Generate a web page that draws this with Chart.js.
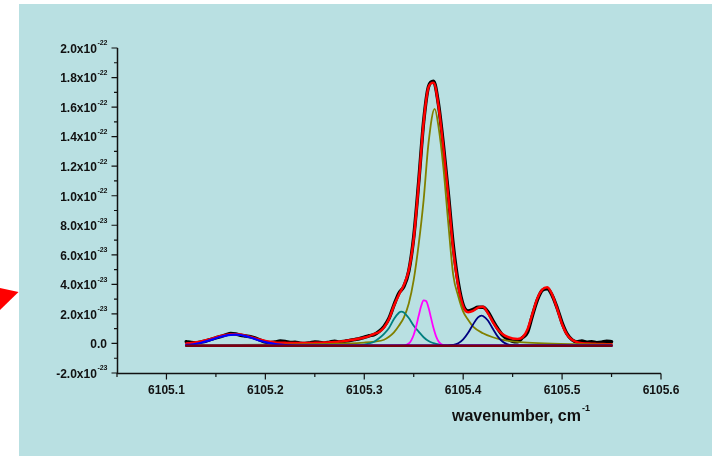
<!DOCTYPE html>
<html>
<head>
<meta charset="utf-8">
<title>wavenumber spectrum</title>
<script src="https://cdn.jsdelivr.net/npm/chart.js@4.4.1/dist/chart.umd.min.js"></script>
<style>
    html, body { margin: 0; padding: 0; background: #ffffff; }
    canvas { display: block; }
</style>
</head>
<body>
<canvas id="line_chart" width="712" height="456"></canvas>
<script>
// intensities are in units of 1e-23
const wavenumber = [
    6105.120, 6105.125, 6105.130, 6105.135, 6105.140, 6105.145, 6105.150, 6105.155, 6105.160, 6105.165,
    6105.170, 6105.175, 6105.180, 6105.185, 6105.190, 6105.195, 6105.200, 6105.205, 6105.210, 6105.215,
    6105.220, 6105.225, 6105.230, 6105.235, 6105.240, 6105.245, 6105.250, 6105.255, 6105.260, 6105.265,
    6105.270, 6105.275, 6105.280, 6105.285, 6105.290, 6105.295, 6105.300, 6105.305, 6105.310, 6105.315,
    6105.320, 6105.325, 6105.330, 6105.335, 6105.340, 6105.345, 6105.350, 6105.355, 6105.360, 6105.365,
    6105.370, 6105.375, 6105.380, 6105.385, 6105.390, 6105.395, 6105.400, 6105.405, 6105.410, 6105.415,
    6105.420, 6105.425, 6105.430, 6105.435, 6105.440, 6105.445, 6105.450, 6105.455, 6105.460, 6105.465,
    6105.470, 6105.475, 6105.480, 6105.485, 6105.490, 6105.495, 6105.500, 6105.505, 6105.510, 6105.515,
    6105.520, 6105.525, 6105.530, 6105.535, 6105.540, 6105.545, 6105.550
];

const measured = [
    0.12, 0.06, 0.04, 0.10, 0.17, 0.28, 0.38, 0.47, 0.58, 0.68,
    0.64, 0.55, 0.50, 0.45, 0.36, 0.22, 0.10, 0.05, 0.10, 0.16,
    0.13, 0.06, 0.08, 0.02, 0.00, 0.04, 0.10, 0.07, 0.03, 0.09,
    0.15, 0.10, 0.14, 0.20, 0.26, 0.32, 0.42, 0.52, 0.60, 0.82,
    1.15, 1.70, 2.60, 3.40, 3.85, 4.90, 7.20, 10.9, 15.0, 17.4,
    17.75, 16.2, 13.4, 10.1, 6.6, 4.1, 2.6, 2.2, 2.3, 2.45,
    2.45, 2.15, 1.55, 1.00, 0.55, 0.30, 0.15, 0.12, 0.40, 0.75,
    1.9, 2.95, 3.6, 3.7, 3.25, 2.4, 1.4, 0.65, 0.25, 0.10,
    0.16, 0.08, 0.12, 0.05, 0.08, 0.15, 0.12
];

const fitTotal = [
    0.00, 0.03, 0.08, 0.14, 0.22, 0.31, 0.41, 0.50, 0.57, 0.62,
    0.63, 0.60, 0.53, 0.44, 0.34, 0.25, 0.17, 0.11, 0.07, 0.05,
    0.04, 0.03, 0.03, 0.03, 0.03, 0.03, 0.04, 0.05, 0.06, 0.08,
    0.10, 0.13, 0.16, 0.21, 0.27, 0.33, 0.40, 0.50, 0.64, 0.78,
    1.08, 1.65, 2.55, 3.30, 3.95, 4.95, 7.10, 10.8, 14.95, 17.35,
    17.65, 16.1, 13.2, 9.9, 6.3, 3.9, 2.5, 2.12, 2.2, 2.42,
    2.48, 2.05, 1.45, 0.95, 0.62, 0.44, 0.34, 0.31, 0.42, 0.95,
    2.0, 3.05, 3.65, 3.8, 3.3, 2.35, 1.3, 0.6, 0.25, 0.09,
    0.02, 0.00, -0.02, -0.03, -0.04, -0.05, -0.05
];

// fitted components
const peak1X = [6105.12, 6105.125, 6105.13, 6105.135, 6105.14, 6105.145, 6105.15, 6105.155, 6105.16, 6105.165, 6105.17, 6105.175, 6105.18, 6105.185, 6105.19, 6105.195, 6105.20, 6105.205, 6105.21, 6105.215, 6105.22, 6105.23, 6105.55];
const peak1Y = [-0.10, -0.07, -0.02, 0.05, 0.14, 0.24, 0.35, 0.45, 0.53, 0.58, 0.60, 0.57, 0.50, 0.40, 0.29, 0.18, 0.09, 0.02, -0.04, -0.08, -0.11, -0.14, -0.15];

const peak2X = [6105.12, 6105.29, 6105.30, 6105.305, 6105.31, 6105.315, 6105.32, 6105.325, 6105.33, 6105.335, 6105.3375, 6105.34, 6105.345, 6105.35, 6105.355, 6105.36, 6105.365, 6105.37, 6105.375, 6105.38, 6105.39, 6105.55];
const peak2Y = [-0.15, -0.13, -0.08, 0.00, 0.12, 0.35, 0.65, 1.05, 1.65, 2.08, 2.16, 2.10, 1.72, 1.20, 0.80, 0.42, 0.16, 0.02, -0.07, -0.11, -0.14, -0.15];

const peak3X = [6105.12, 6105.33, 6105.34, 6105.345, 6105.3475, 6105.35, 6105.3525, 6105.355, 6105.3575, 6105.36, 6105.3625, 6105.365, 6105.3675, 6105.37, 6105.3725, 6105.375, 6105.3775, 6105.38, 6105.385, 6105.55];
const peak3Y = [-0.15, -0.15, -0.14, 0.00, 0.21, 0.59, 1.17, 1.87, 2.53, 2.91, 2.87, 2.41, 1.73, 1.04, 0.50, 0.15, -0.03, -0.11, -0.14, -0.15];

const peak4X = [6105.12, 6105.20, 6105.25, 6105.28, 6105.30, 6105.31, 6105.32, 6105.325, 6105.33, 6105.335, 6105.34, 6105.345, 6105.35, 6105.355, 6105.36, 6105.365, 6105.3712, 6105.375, 6105.38, 6105.385, 6105.39, 6105.395, 6105.40, 6105.405, 6105.41, 6105.42, 6105.43, 6105.44, 6105.45, 6105.465, 6105.49, 6105.52, 6105.55];
const peak4Y = [-0.12, -0.08, -0.05, 0.00, 0.06, 0.12, 0.25, 0.45, 0.75, 1.20, 1.75, 2.70, 4.30, 6.70, 9.70, 13.6, 15.88, 14.7, 11.9, 8.1, 4.6, 3.2, 2.15, 1.6, 1.14, 0.69, 0.42, 0.24, 0.14, 0.05, -0.02, -0.05, -0.08];

const peak5X = [6105.12, 6105.38, 6105.385, 6105.39, 6105.395, 6105.40, 6105.405, 6105.41, 6105.415, 6105.4185, 6105.42, 6105.425, 6105.43, 6105.435, 6105.44, 6105.445, 6105.45, 6105.455, 6105.55];
const peak5Y = [-0.15, -0.15, -0.14, -0.10, 0.01, 0.27, 0.72, 1.29, 1.76, 1.88, 1.86, 1.55, 0.99, 0.46, 0.11, -0.06, -0.12, -0.14, -0.15];

const baselineX = [6105.12, 6105.55];
const baselineY = [-0.15, -0.15];

// axis ticks
const xTicks = [6105.1, 6105.2, 6105.3, 6105.4, 6105.5, 6105.6];
const xTickLabels = ['6105.1', '6105.2', '6105.3', '6105.4', '6105.5', '6105.6'];
const xMinorTicks = [6105.05, 6105.15, 6105.25, 6105.35, 6105.45, 6105.55];

const yTicks = [-2, 0, 2, 4, 6, 8, 10, 12, 14, 16, 18, 20];
const yTickLabels = ['-2.0', '0.0', '2.0', '4.0', '6.0', '8.0', '1.0', '1.2', '1.4', '1.6', '1.8', '2.0'];
const yTickExponents = ['-23', '', '-23', '-23', '-23', '-23', '-22', '-22', '-22', '-22', '-22', '-22'];
const yMinorTicks = [-1, 1, 3, 5, 7, 9, 11, 13, 15, 17, 19];

const axisTitle = 'wavenumber, cm';
const axisTitleExp = '-1';

function toPoints(xs, ys) {
    return xs.map(function (x, i) { return { x: x, y: ys[i] }; });
}

function line(label, xs, ys, color, width, order) {
    return {
        label: label,
        data: toPoints(xs, ys),
        borderColor: color,
        borderWidth: width,
        pointRadius: 0,
        fill: false,
        cubicInterpolationMode: 'monotone',
        borderJoinStyle: 'round',
        borderCapStyle: 'round',
        order: order
    };
}

const FONT = '"Liberation Sans", Arial, sans-serif';

const frame = {
    id: 'frame',
    beforeDraw: function (chart) {
        var ctx = chart.ctx;
        ctx.save();
        ctx.fillStyle = '#ffffff';
        ctx.fillRect(0, 0, chart.width, chart.height);
        ctx.fillStyle = '#b9e0e2';
        ctx.fillRect(19, 4, chart.width - 19, chart.height - 4);
        // red pointer on the left margin
        ctx.fillStyle = '#ff0000';
        ctx.beginPath();
        ctx.moveTo(0, 288);
        ctx.lineTo(18.5, 292);
        ctx.lineTo(0, 310);
        ctx.closePath();
        ctx.fill();
        ctx.restore();
    },
    afterDraw: function (chart) {
        var ctx = chart.ctx;
        var xs = chart.scales.x, ys = chart.scales.y;
        var area = chart.chartArea;
        var x0 = Math.round(area.left) + 0.5, y0 = Math.round(area.bottom) + 0.5;
        ctx.save();
        ctx.strokeStyle = '#111111';
        ctx.lineWidth = 1.5;
        ctx.beginPath();
        ctx.moveTo(x0, area.top);
        ctx.lineTo(x0, y0);
        ctx.lineTo(area.right, y0);
        ctx.stroke();

        ctx.lineWidth = 1.2;
        ctx.beginPath();
        yTicks.forEach(function (v) {
            var p = ys.getPixelForValue(v);
            ctx.moveTo(x0, p); ctx.lineTo(x0 - 6, p);
        });
        yMinorTicks.forEach(function (v) {
            var p = ys.getPixelForValue(v);
            ctx.moveTo(x0, p); ctx.lineTo(x0 - 3.5, p);
        });
        xTicks.forEach(function (v) {
            var p = xs.getPixelForValue(v);
            ctx.moveTo(p, y0); ctx.lineTo(p, y0 + 6);
        });
        xMinorTicks.forEach(function (v) {
            var p = xs.getPixelForValue(v);
            ctx.moveTo(p, y0); ctx.lineTo(p, y0 + 3.5);
        });
        ctx.stroke();

        ctx.fillStyle = '#111111';
        var right = x0 - 10;
        yTicks.forEach(function (v, i) {
            var p = ys.getPixelForValue(v);
            var exp = yTickExponents[i];
            var expW = 0;
            if (exp) {
                ctx.font = 'bold 7px ' + FONT;
                expW = ctx.measureText(exp).width;
                ctx.textAlign = 'left';
                ctx.textBaseline = 'top';
                ctx.fillText(exp, right - expW, p - 8);
            }
            ctx.font = 'bold 12px ' + FONT;
            ctx.textAlign = 'right';
            ctx.textBaseline = 'middle';
            ctx.fillText(exp ? yTickLabels[i] + 'x10' : yTickLabels[i], right - expW - 0.5, p + 1.5);
        });

        ctx.font = 'bold 12px ' + FONT;
        ctx.textAlign = 'center';
        ctx.textBaseline = 'middle';
        xTicks.forEach(function (v, i) {
            ctx.fillText(xTickLabels[i], xs.getPixelForValue(v), y0 + 17);
        });

        ctx.font = 'bold 16px ' + FONT;
        ctx.textAlign = 'left';
        ctx.textBaseline = 'alphabetic';
        var tx = area.right - 209;
        ctx.fillText(axisTitle, tx, y0 + 47);
        var tw = ctx.measureText(axisTitle).width;
        ctx.font = 'bold 9px ' + FONT;
        ctx.fillText(axisTitleExp, tx + tw + 1, y0 + 37);
        ctx.restore();
    }
};

function getChartConfig() {
    return {
        type: 'line',
        data: {
            datasets: [
                line('measured', wavenumber, measured, '#000000', 3.5, 9),
                line('fit', wavenumber, fitTotal, '#ff0000', 2.5, 8),
                line('peak 4', peak4X, peak4Y, '#808000', 1.8, 7),
                line('peak 2', peak2X, peak2Y, '#008080', 1.8, 6),
                line('peak 3', peak3X, peak3Y, '#ff00ff', 1.8, 5),
                line('peak 5', peak5X, peak5Y, '#000080', 1.8, 4),
                line('peak 1', peak1X, peak1Y, '#0000ff', 2.2, 3),
                line('baseline', baselineX, baselineY, '#7a0010', 2.5, 2)
            ]
        },
        options: {
            responsive: false,
            animation: false,
            devicePixelRatio: 1,
            layout: { padding: { left: 117, right: 51, top: 48, bottom: 83 } },
            scales: {
                x: { type: 'linear', min: 6105.05, max: 6105.6, display: false },
                y: { type: 'linear', min: -2, max: 20, display: false }
            },
            plugins: {
                legend: { display: false },
                tooltip: { enabled: false }
            }
        },
        plugins: [frame]
    };
}

new Chart(document.getElementById('line_chart').getContext('2d'), getChartConfig());
</script>
</body>
</html>
